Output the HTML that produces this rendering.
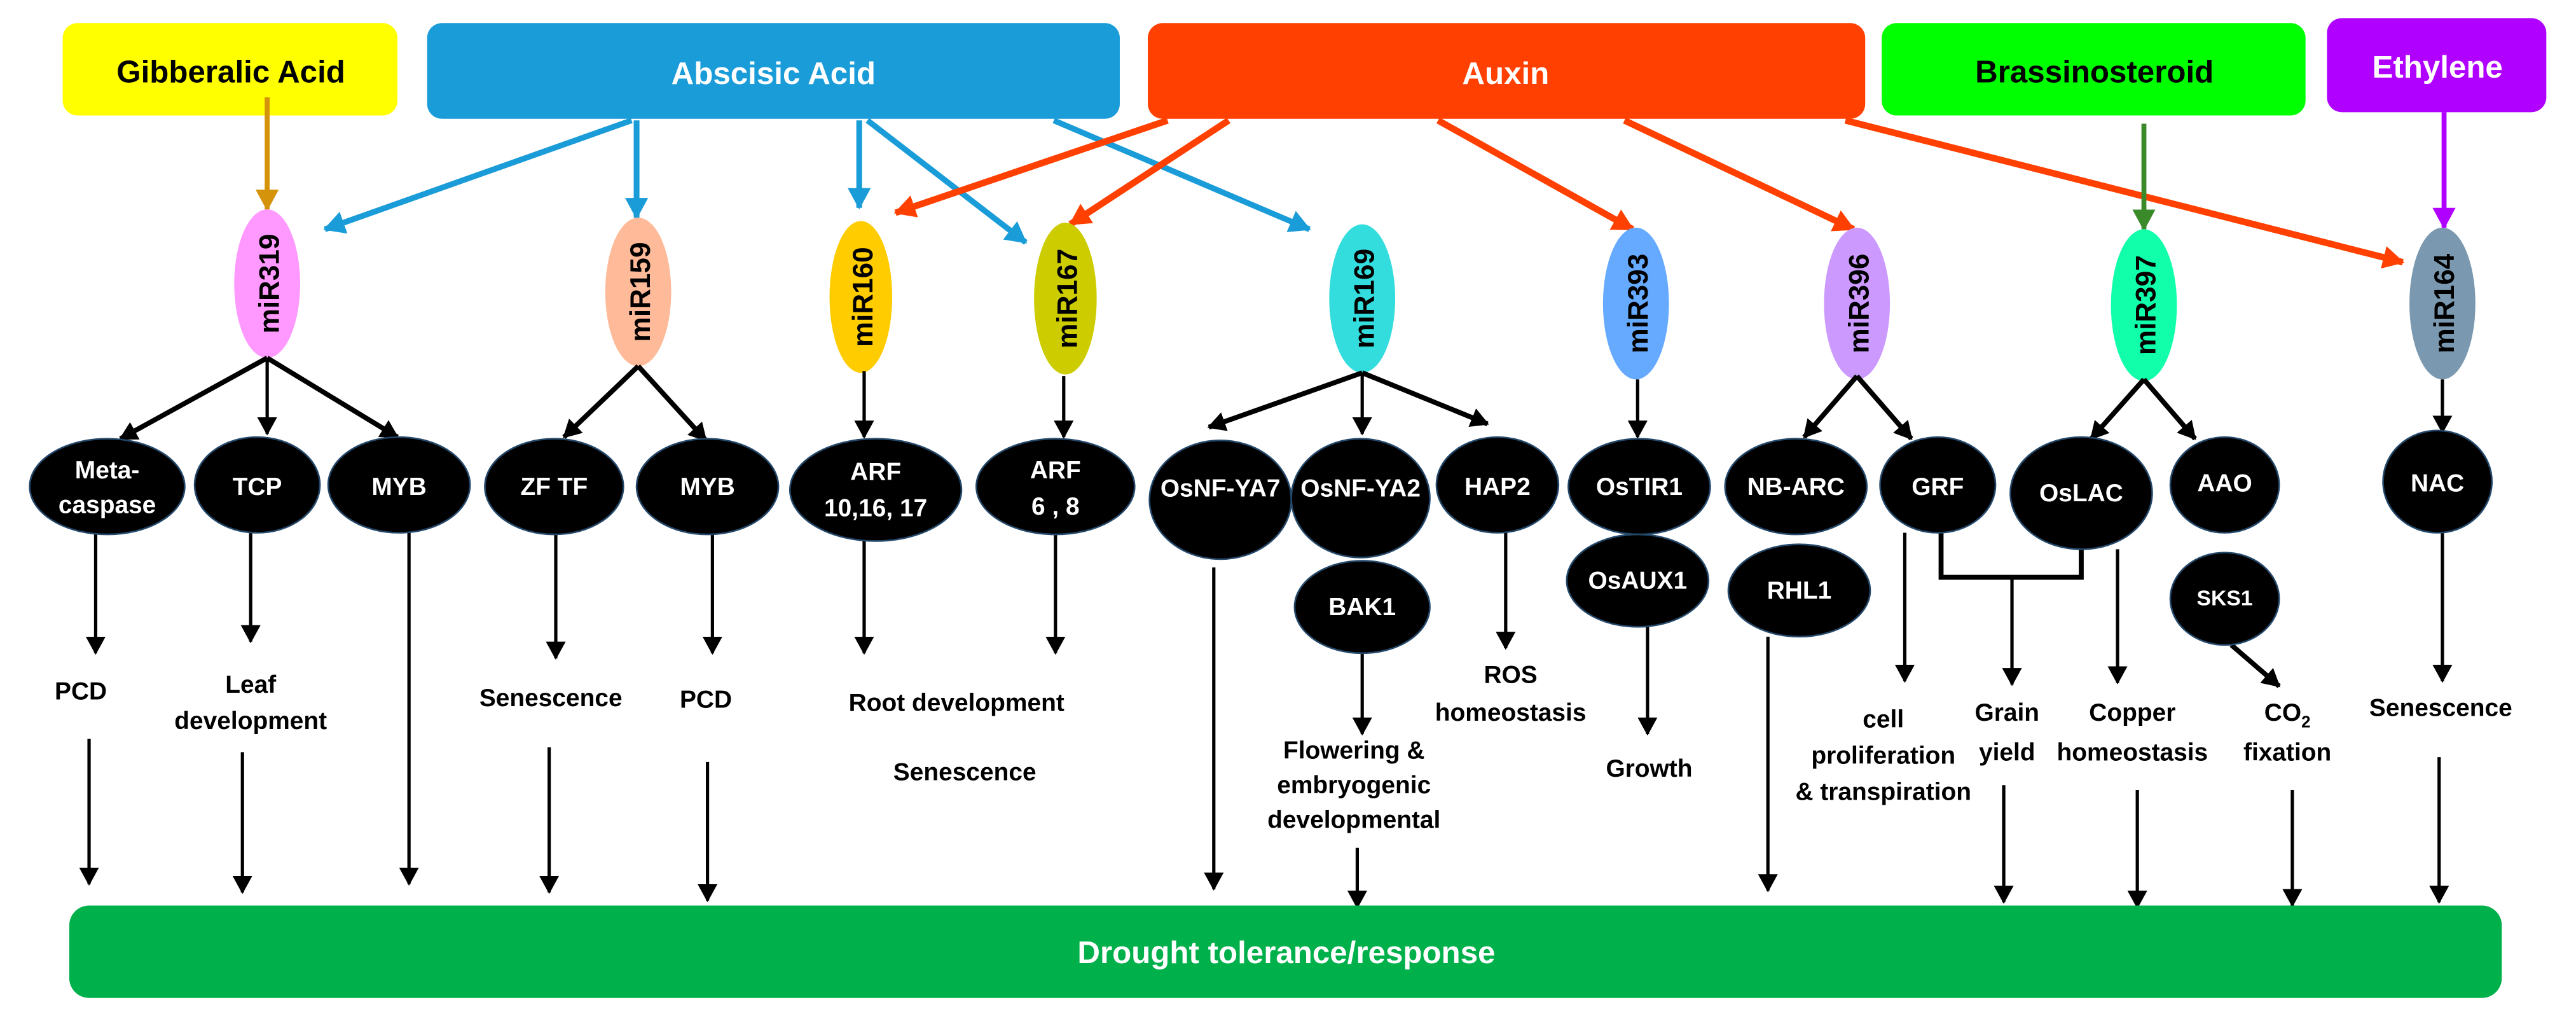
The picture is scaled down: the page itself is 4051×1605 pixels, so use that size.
<!DOCTYPE html>
<html><head><meta charset="utf-8"><style>
html,body{margin:0;padding:0;background:#fff;}
svg{display:block;}
text{font-family:"Liberation Sans",Arial,sans-serif;font-weight:bold;}
</style></head><body>
<svg width="4051" height="1605" viewBox="0 0 1562 619" preserveAspectRatio="none" xmlns="http://www.w3.org/2000/svg">
<defs>
<marker id="mk" markerUnits="userSpaceOnUse" markerWidth="12" markerHeight="14" refX="10" refY="6" orient="auto"><path d="M0,0 L11,6 L0,12 z" fill="#000"/></marker>
<marker id="mb" markerUnits="userSpaceOnUse" markerWidth="16" markerHeight="16" refX="12" refY="7" orient="auto"><path d="M0,0 L13,7 L0,14 z" fill="#1a9cd8"/></marker>
<marker id="mo" markerUnits="userSpaceOnUse" markerWidth="16" markerHeight="16" refX="12" refY="7" orient="auto"><path d="M0,0 L13,7 L0,14 z" fill="#ff4000"/></marker>
<marker id="my" markerUnits="userSpaceOnUse" markerWidth="16" markerHeight="16" refX="12" refY="7" orient="auto"><path d="M0,0 L13,7 L0,14 z" fill="#d4930a"/></marker>
<marker id="mg" markerUnits="userSpaceOnUse" markerWidth="16" markerHeight="16" refX="12" refY="7" orient="auto"><path d="M0,0 L13,7 L0,14 z" fill="#3a8a2a"/></marker>
<marker id="mp" markerUnits="userSpaceOnUse" markerWidth="16" markerHeight="16" refX="12" refY="7" orient="auto"><path d="M0,0 L13,7 L0,14 z" fill="#b000ff"/></marker>
</defs>

<!-- hormone boxes -->
<rect x="38" y="14" width="203" height="56" rx="9" fill="#ffff00"/>
<text x="140" y="50" font-size="19" text-anchor="middle" fill="#000">Gibberalic Acid</text>
<rect x="259" y="14" width="420" height="58" rx="9" fill="#1a9cd8"/>
<text x="469" y="51" font-size="19" text-anchor="middle" fill="#fff">Abscisic Acid</text>
<rect x="696" y="14" width="435" height="58" rx="9" fill="#ff4000"/>
<text x="913" y="51" font-size="19" text-anchor="middle" fill="#fff">Auxin</text>
<rect x="1141" y="14" width="257" height="56" rx="9" fill="#00ff00"/>
<text x="1270" y="50" font-size="19" text-anchor="middle" fill="#000">Brassinosteroid</text>
<rect x="1411" y="11" width="133" height="57" rx="9" fill="#b000ff"/>
<text x="1478" y="47" font-size="19" text-anchor="middle" fill="#fff">Ethylene</text>

<!-- hormone arrows -->
<line x1="162" y1="59" x2="162" y2="127" stroke="#d4930a" stroke-width="3" marker-end="url(#my)"/>
<g stroke="#1a9cd8" stroke-width="3.5" fill="none">
<line x1="383" y1="73" x2="197" y2="139" marker-end="url(#mb)"/>
<line x1="386" y1="73" x2="386" y2="132" marker-end="url(#mb)"/>
<line x1="521" y1="73" x2="521" y2="126" marker-end="url(#mb)"/>
<line x1="526" y1="73" x2="622" y2="147" marker-end="url(#mb)"/>
<line x1="639" y1="73" x2="794" y2="139" marker-end="url(#mb)"/>
</g>
<g stroke="#ff4000" stroke-width="4" fill="none">
<line x1="708" y1="73" x2="543" y2="129" marker-end="url(#mo)"/>
<line x1="745" y1="73" x2="649" y2="136" marker-end="url(#mo)"/>
<line x1="872" y1="73" x2="990" y2="139" marker-end="url(#mo)"/>
<line x1="985" y1="73" x2="1124" y2="139" marker-end="url(#mo)"/>
<line x1="1119" y1="73" x2="1457" y2="159" marker-end="url(#mo)"/>
</g>
<line x1="1300" y1="75" x2="1300" y2="139" stroke="#3a8a2a" stroke-width="3" marker-end="url(#mg)"/>
<line x1="1482" y1="68" x2="1482" y2="138" stroke="#b000ff" stroke-width="3" marker-end="url(#mp)"/>

<!-- miRNA ellipses -->
<g font-size="17" fill="#000">
<ellipse cx="162" cy="172" rx="20" ry="45" fill="#ff99ff"/>
<text transform="translate(169,172) rotate(-90)" text-anchor="middle">miR319</text>
<ellipse cx="387" cy="177" rx="20" ry="45" fill="#ffbb99"/>
<text transform="translate(394,177) rotate(-90)" text-anchor="middle">miR159</text>
<ellipse cx="522" cy="180" rx="19" ry="46" fill="#ffcc00"/>
<text transform="translate(529,180) rotate(-90)" text-anchor="middle">miR160</text>
<ellipse cx="646" cy="181" rx="19" ry="46" fill="#cccc00"/>
<text transform="translate(653,181) rotate(-90)" text-anchor="middle">miR167</text>
<ellipse cx="826" cy="181" rx="20" ry="45" fill="#33dddd"/>
<text transform="translate(833,181) rotate(-90)" text-anchor="middle">miR169</text>
<ellipse cx="992" cy="184" rx="20" ry="46" fill="#66aaff"/>
<text transform="translate(999,184) rotate(-90)" text-anchor="middle">miR393</text>
<ellipse cx="1126" cy="184" rx="20" ry="46" fill="#cc99ff"/>
<text transform="translate(1133,184) rotate(-90)" text-anchor="middle">miR396</text>
<ellipse cx="1300" cy="185" rx="20" ry="46" fill="#11ffaa"/>
<text transform="translate(1307,185) rotate(-90)" text-anchor="middle">miR397</text>
<ellipse cx="1481" cy="184" rx="20" ry="46" fill="#7a99b0"/>
<text transform="translate(1488,184) rotate(-90)" text-anchor="middle">miR164</text>
</g>

<!-- miR -> targets -->
<g stroke="#000" stroke-width="3" fill="none" marker-end="url(#mk)">
<line x1="162" y1="217" x2="73" y2="266"/>
<line x1="162" y1="217" x2="162" y2="263" stroke-width="2"/>
<line x1="162" y1="217" x2="241" y2="265"/>
<line x1="387" y1="222" x2="342" y2="265"/>
<line x1="387" y1="222" x2="428" y2="267"/>
<line x1="524" y1="225" x2="524" y2="265" stroke-width="2"/>
<line x1="645" y1="228" x2="645" y2="265" stroke-width="2"/>
<line x1="826" y1="226" x2="733" y2="259"/>
<line x1="826" y1="226" x2="826" y2="263" stroke-width="2"/>
<line x1="826" y1="226" x2="902" y2="257"/>
<line x1="993" y1="230" x2="993" y2="265" stroke-width="2"/>
<line x1="1126" y1="228" x2="1094" y2="265"/>
<line x1="1126" y1="228" x2="1159" y2="266"/>
<line x1="1300" y1="230" x2="1268" y2="266"/>
<line x1="1300" y1="230" x2="1331" y2="266"/>
<line x1="1481" y1="230" x2="1481" y2="262" stroke-width="2"/>
</g>

<!-- target -> process arrows -->
<g stroke="#000" stroke-width="2" fill="none" marker-end="url(#mk)">
<line x1="58" y1="323" x2="58" y2="396"/>
<line x1="54" y1="448" x2="54" y2="536"/>
<line x1="152" y1="323" x2="152" y2="389"/>
<line x1="147" y1="456" x2="147" y2="541"/>
<line x1="248" y1="323" x2="248" y2="536"/>
<line x1="337" y1="323" x2="337" y2="399"/>
<line x1="333" y1="453" x2="333" y2="541"/>
<line x1="432" y1="323" x2="432" y2="396"/>
<line x1="429" y1="462" x2="429" y2="546"/>
<line x1="524" y1="328" x2="524" y2="396"/>
<line x1="640" y1="323" x2="640" y2="396"/>
<line x1="736" y1="344" x2="736" y2="539"/>
<line x1="826" y1="395" x2="826" y2="445"/>
<line x1="823" y1="514" x2="823" y2="550"/>
<line x1="913" y1="323" x2="913" y2="393"/>
<line x1="999" y1="380" x2="999" y2="445"/>
<line x1="1072" y1="386" x2="1072" y2="540"/>
<line x1="1155" y1="323" x2="1155" y2="413"/>
<line x1="1220" y1="350" x2="1220" y2="415"/>
<line x1="1215" y1="476" x2="1215" y2="547"/>
<line x1="1284" y1="333" x2="1284" y2="414"/>
<line x1="1296" y1="479" x2="1296" y2="550"/>
<line x1="1353" y1="391" x2="1382" y2="416" stroke-width="3"/>
<line x1="1390" y1="479" x2="1390" y2="549"/>
<line x1="1481" y1="323" x2="1481" y2="413"/>
<line x1="1479" y1="459" x2="1479" y2="547"/>
</g>
<polyline points="1177,318 1177,350 1262,350 1262,325" stroke="#000" stroke-width="3" fill="none"/>

<!-- black nodes -->
<g fill="#000" stroke="#24486a" stroke-width="1">
<ellipse cx="65" cy="295" rx="47" ry="29"/>
<ellipse cx="156" cy="294" rx="38" ry="29"/>
<ellipse cx="242" cy="294" rx="43" ry="29"/>
<ellipse cx="336" cy="295" rx="42" ry="29"/>
<ellipse cx="429" cy="295" rx="43" ry="29"/>
<ellipse cx="531" cy="297" rx="52" ry="31"/>
<ellipse cx="640" cy="295" rx="48" ry="29"/>
<ellipse cx="740" cy="303" rx="43" ry="36"/>
<ellipse cx="825" cy="302" rx="42" ry="36"/>
<ellipse cx="908" cy="294" rx="37" ry="29"/>
<ellipse cx="994" cy="295" rx="43" ry="29"/>
<ellipse cx="1089" cy="295" rx="43" ry="29"/>
<ellipse cx="1175" cy="294" rx="35" ry="29"/>
<ellipse cx="1262" cy="299" rx="43" ry="34"/>
<ellipse cx="1349" cy="294" rx="33" ry="29"/>
<ellipse cx="1478" cy="292" rx="33" ry="31"/>
<ellipse cx="826" cy="368" rx="41" ry="28"/>
<ellipse cx="993" cy="352" rx="43" ry="28"/>
<ellipse cx="1091" cy="358" rx="43" ry="28"/>
<ellipse cx="1349" cy="363" rx="33" ry="28"/>
</g>
<g fill="#fff" font-size="15" text-anchor="middle">
<text x="65" y="290">Meta-</text><text x="65" y="311">caspase</text>
<text x="156" y="300">TCP</text>
<text x="242" y="300">MYB</text>
<text x="336" y="300">ZF TF</text>
<text x="429" y="300">MYB</text>
<text x="531" y="291">ARF</text><text x="531" y="313">10,16, 17</text>
<text x="640" y="290">ARF</text><text x="640" y="312">6 , 8</text>
<text x="740" y="301">OsNF-YA7</text>
<text x="825" y="301">OsNF-YA2</text>
<text x="908" y="300">HAP2</text>
<text x="994" y="300">OsTIR1</text>
<text x="1089" y="300">NB-ARC</text>
<text x="1175" y="300">GRF</text>
<text x="1262" y="304">OsLAC</text>
<text x="1349" y="298">AAO</text>
<text x="1478" y="298">NAC</text>
<text x="826" y="373">BAK1</text>
<text x="993" y="357">OsAUX1</text>
<text x="1091" y="363">RHL1</text>
<text x="1349" y="367" font-size="13">SKS1</text>
</g>

<!-- process labels -->
<g fill="#000" font-size="15" text-anchor="middle">
<text x="49" y="424">PCD</text>
<text x="152" y="420">Leaf</text><text x="152" y="442">development</text>
<text x="334" y="428">Senescence</text>
<text x="428" y="429">PCD</text>
<text x="580" y="431">Root development</text>
<text x="585" y="473">Senescence</text>
<text x="821" y="460">Flowering &amp;</text><text x="821" y="481">embryogenic</text><text x="821" y="502">developmental</text>
<text x="916" y="414">ROS</text><text x="916" y="437">homeostasis</text>
<text x="1000" y="471">Growth</text>
<text x="1142" y="441">cell</text><text x="1142" y="463">proliferation</text><text x="1142" y="485">&amp; transpiration</text>
<text x="1217" y="437">Grain</text><text x="1217" y="461">yield</text>
<text x="1293" y="437">Copper</text><text x="1293" y="461">homeostasis</text>
<text x="1387" y="437">CO<tspan font-size="10" dy="4">2</tspan></text><text x="1387" y="461">fixation</text>
<text x="1480" y="434">Senescence</text>
</g>

<!-- bottom bar -->
<rect x="42" y="549" width="1475" height="56" rx="12" fill="#00b04a"/>
<text x="780" y="584" font-size="19" text-anchor="middle" fill="#fff">Drought tolerance/response</text>
</svg>
</body></html>
